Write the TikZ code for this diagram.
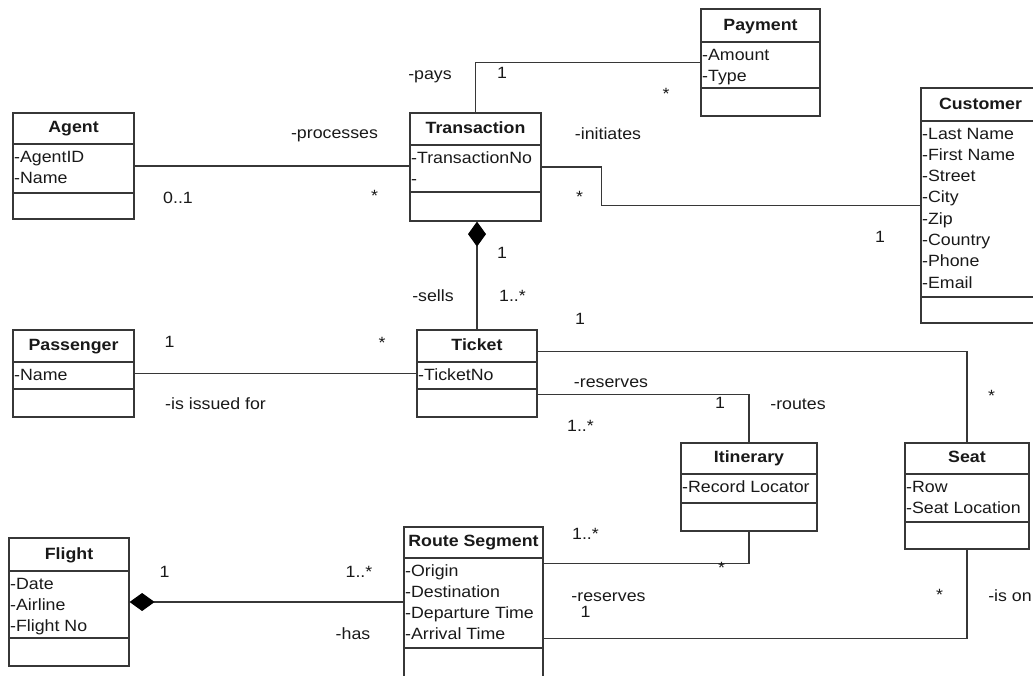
\documentclass[tikz,border=0pt]{standalone}
\usepackage{fontspec}
\setmainfont{Liberation Sans}[FakeStretch=1.09]
\usetikzlibrary{arrows.meta,fit}
\definecolor{ln}{RGB}{55,55,55}
\definecolor{tx}{RGB}{25,25,25}
\tikzset{
 box/.style={draw=ln, line width=1.2pt, inner sep=0pt},
 sepline/.style={draw=ln, line width=1.2pt},
 conn/.style={draw=ln, line width=1.1pt},
 lbl/.style={anchor=base, inner sep=0pt, text=tx, font=\fontsize{16.3}{19}\selectfont},
 ttl/.style={anchor=base, inner sep=0pt, text=tx, font=\fontsize{16.3}{19}\selectfont\bfseries},
 attr/.style={anchor=base west, inner sep=0pt, text=tx, font=\fontsize{16.3}{19}\selectfont},
 comp/.style={-{Diamond[length=25pt,width=18pt,color=black,fill=black]}}
}
\newcommand{\umlbox}[9]{%
 \node[box, fit={(#2,#3) (#4,#5)}] (#1) {};
 \draw[sepline] (#2,#6) -- (#4,#6);
 \draw[sepline] (#2,#7) -- (#4,#7);
 \node[ttl] (#1-t) at ({(#2+#4)/2}, #6-12) {#8};
 \foreach \a [count=\i] in {#9} \node[attr] (#1-a\i) at (#2+1, {#6+18+(\i-1)*21.3}) {\a};
}
\begin{document}
\begin{tikzpicture}[x=1pt,y=-1pt]
\useasboundingbox (0,0) rectangle (1033,675);
\fill[white] (0,0) rectangle (1033,675);
\clip (0,0) rectangle (1033,675);

% classes
\umlbox{payment}{701}{9}{820}{116}{42}{88}{Payment}{-Amount,-Type}
\umlbox{agent}{13}{113}{134}{219}{144}{193}{Agent}{-AgentID,-Name}
\umlbox{transaction}{410}{113}{541}{221}{145}{192}{Transaction}{-TransactionNo,-}
\umlbox{customer}{921}{88}{1040}{323}{121}{297}{Customer}{-Last Name,-First Name,-Street,-City,-Zip,-Country,-Phone,-Email}
\umlbox{passenger}{13}{330}{134}{417}{362}{389}{Passenger}{-Name}
\umlbox{ticket}{417}{330}{537}{417}{362}{389}{Ticket}{-TicketNo}
\umlbox{itinerary}{681}{443}{817}{531}{474}{503}{Itinerary}{-Record Locator}
\umlbox{seat}{905}{443}{1029}{549}{474}{522}{Seat}{-Row,-Seat Location}
\umlbox{flight}{9}{538}{129}{666}{571}{638}{Flight}{-Date,-Airline,-Flight No}
\umlbox{rs}{404}{527}{543}{700}{558}{648}{Route Segment}{-Origin,-Destination,-Departure Time,-Arrival Time}

% helper coordinates
\path (ticket.north east) ++(0,22) coordinate (tS);
\path (ticket.north east) ++(0,65) coordinate (tI);
\path (rs.north east) ++(0,37) coordinate (rI);
\path (rs.north east) ++(0,112) coordinate (rS);

% connectors
\draw[conn] (transaction.north) |- (payment.west);
\draw[conn] (agent.east) -- (agent.east -| transaction.west);
\draw[conn] (transaction.east) -- ++(60,0) |- (customer.west);
\draw[conn, comp] (ticket.north) -- (ticket.north |- transaction.south);
\draw[conn] (passenger.east) -- (passenger.east -| ticket.west);
\draw[conn] (tS) -| (seat.north);
\draw[conn] (tI) -| (itinerary.north);
\draw[conn] (itinerary.south) |- (rI);
\draw[conn] (seat.south) |- (rS);
\draw[conn, comp] (flight.east -| rs.west) -- (flight.east);

% labels
\node[lbl] (l1) at (430,79) {-pays};
\node[lbl] (l2) at (502,78) {1};
\node[lbl] (l3) at (666,99) {*};
\node[lbl] (l4) at (608,139) {-initiates};
\node[lbl] (l5) at (579.5,202) {*};
\node[lbl] (l6) at (334.5,138) {-processes};
\node[lbl] (l7) at (178,203) {0..1};
\node[lbl] (l8) at (374.5,201) {*};
\node[lbl] (l9) at (880,242) {1};
\node[lbl] (l10) at (580,324) {1};
\node[lbl] (l11) at (502,258) {1};
\node[lbl] (l12) at (433,301) {-sells};
\node[lbl] (l13) at (512.5,301) {1..*};
\node[lbl] (l14) at (382,348) {*};
\node[lbl] (l15) at (169.5,347) {1};
\node[lbl] (l16) at (215.5,409) {-is issued for};
\node[lbl] (l17) at (611,387) {-reserves};
\node[lbl] (l18) at (720,408) {1};
\node[lbl] (l19) at (798,409) {-routes};
\node[lbl] (l20) at (580.5,431) {1..*};
\node[lbl] (l21) at (991.5,401) {*};
\node[lbl] (l22) at (585.5,539) {1..*};
\node[lbl] (l23) at (721.5,573) {*};
\node[lbl] (l24) at (608.5,601) {-reserves};
\node[lbl] (l25) at (585.5,617) {1};
\node[lbl] (l26) at (939.5,600) {*};
\node[lbl] (l27) at (1010,601) {-is on};
\node[lbl] (l28) at (164.5,577) {1};
\node[lbl] (l29) at (359,577) {1..*};
\node[lbl] (l30) at (353,639) {-has};
\end{tikzpicture}
\end{document}
